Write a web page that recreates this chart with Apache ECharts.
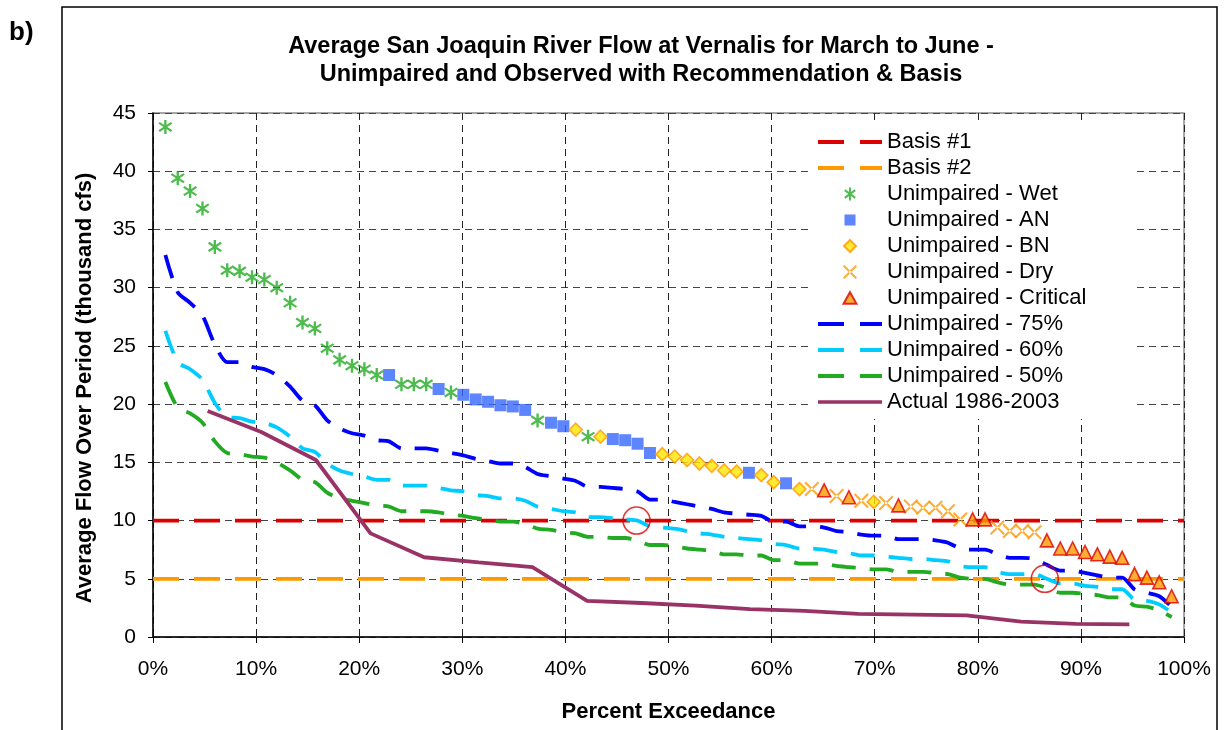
<!DOCTYPE html>
<html>
<head>
<meta charset="utf-8">
<script src="https://cdn.jsdelivr.net/npm/echarts@6/dist/echarts.min.js"></script>
<style>
html,body{margin:0;padding:0;background:#fff;}
#chart{width:1227px;height:730px;}
</style>
</head>
<body>
<div id="chart"></div>
<script>
// Percent exceedance position of each ranked year (82 years)
const exceed = [
 1.2, 2.4, 3.6, 4.8, 6.0, 7.2, 8.4, 9.6, 10.8, 12.0,
 13.3, 14.5, 15.7, 16.9, 18.1, 19.3, 20.5, 21.7, 22.9, 24.1,
 25.3, 26.5, 27.7, 28.9, 30.1, 31.3, 32.5, 33.7, 34.9, 36.1,
 37.3, 38.6, 39.8, 41.0, 42.2, 43.4, 44.6, 45.8, 47.0, 48.2,
 49.4, 50.6, 51.8, 53.0, 54.2, 55.4, 56.6, 57.8, 59.0, 60.2,
 61.4, 62.7, 63.9, 65.1, 66.3, 67.5, 68.7, 69.9, 71.1, 72.3,
 73.5, 74.7, 75.9, 77.1, 78.3, 79.5, 80.7, 81.9, 83.1, 84.3,
 85.5, 86.7, 88.0, 89.2, 90.4, 91.6, 92.8, 94.0, 95.2, 96.4,
 97.6, 98.8
];
// Unimpaired average flow (thousand cfs)
const unimpaired = [
 43.8, 39.4, 38.3, 36.8, 33.5, 31.5, 31.4, 30.9, 30.7, 30.0,
 28.7, 27.0, 26.5, 24.8, 23.8, 23.3, 23.0, 22.5, 22.5, 21.7,
 21.7, 21.7, 21.3, 21.0, 20.8, 20.4, 20.2, 19.9, 19.8, 19.5,
 18.6, 18.4, 18.1, 17.8, 17.2, 17.2, 17.0, 16.9, 16.6, 15.8,
 15.7, 15.5, 15.2, 14.9, 14.7, 14.3, 14.2, 14.1, 13.9, 13.3,
 13.2, 12.7, 12.7, 12.6, 12.1, 12.0, 11.7, 11.6, 11.5, 11.3,
 11.2, 11.1, 11.1, 10.8, 10.1, 10.1, 10.1, 9.4, 9.1, 9.1,
 9.0, 8.3, 7.6, 7.6, 7.3, 7.1, 6.9, 6.8, 5.4, 5.1,
 4.7, 3.5
];
// Water year type of each ranked year: W=Wet, A=AN, B=BN, D=Dry, C=Critical
const yearType = [
 'W','W','W','W','W','W','W','W','W','W',
 'W','W','W','W','W','W','W','W','A','W',
 'W','W','A','W','A','A','A','A','A','A',
 'W','A','A','B','W','B','A','A','A','A',
 'B','B','B','B','B','B','B','A','B','B',
 'A','B','D','C','D','C','D','B','D','C',
 'D','D','D','D','D','C','C','D','D','D',
 'D','C','C','C','C','C','C','C','C','C',
 'C','C'
];
const unimp75 = [
 32.8, 29.6, 28.7, 27.6, 25.1, 23.6, 23.6, 23.2, 23.0, 22.5,
 21.5, 20.3, 19.9, 18.6, 17.9, 17.5, 17.3, 16.9, 16.8, 16.2,
 16.2, 16.2, 16.0, 15.8, 15.6, 15.3, 15.1, 14.9, 14.9, 14.6,
 14.0, 13.8, 13.6, 13.4, 12.9, 12.9, 12.8, 12.7, 12.5, 11.8,
 11.8, 11.6, 11.4, 11.2, 11.0, 10.7, 10.6, 10.5, 10.4, 9.9,
 9.9, 9.5, 9.5, 9.4, 9.1, 9.0, 8.8, 8.7, 8.7, 8.4,
 8.4, 8.4, 8.3, 8.1, 7.6, 7.5, 7.5, 7.1, 6.8, 6.8,
 6.7, 6.2, 5.7, 5.7, 5.5, 5.3, 5.1, 5.1, 4.1, 3.8,
 3.5, 2.6
];
const unimp60 = [
 26.3, 23.6, 23.0, 22.1, 20.1, 18.9, 18.8, 18.5, 18.4, 18.0,
 17.2, 16.2, 15.9, 14.9, 14.3, 14.0, 13.8, 13.5, 13.5, 13.0,
 13.0, 13.0, 12.8, 12.6, 12.5, 12.2, 12.1, 11.9, 11.9, 11.7,
 11.2, 11.0, 10.8, 10.7, 10.3, 10.3, 10.2, 10.1, 10.0, 9.5,
 9.4, 9.3, 9.1, 8.9, 8.8, 8.6, 8.5, 8.4, 8.3, 8.0,
 7.9, 7.6, 7.6, 7.5, 7.3, 7.2, 7.0, 7.0, 6.9, 6.8,
 6.7, 6.7, 6.6, 6.5, 6.1, 6.0, 6.0, 5.6, 5.4, 5.4,
 5.4, 5.0, 4.6, 4.6, 4.4, 4.3, 4.1, 4.1, 3.2, 3.1,
 2.8, 2.1
];
const unimp50 = [
 21.9, 19.7, 19.2, 18.4, 16.8, 15.8, 15.7, 15.5, 15.4, 15.0,
 14.3, 13.5, 13.3, 12.4, 11.9, 11.7, 11.5, 11.3, 11.2, 10.8,
 10.8, 10.8, 10.7, 10.5, 10.4, 10.2, 10.1, 9.9, 9.9, 9.7,
 9.3, 9.2, 9.0, 8.9, 8.6, 8.6, 8.5, 8.5, 8.3, 7.9,
 7.9, 7.8, 7.6, 7.5, 7.4, 7.1, 7.1, 7.0, 7.0, 6.6,
 6.6, 6.3, 6.3, 6.3, 6.1, 6.0, 5.9, 5.8, 5.8, 5.6,
 5.6, 5.6, 5.5, 5.4, 5.1, 5.0, 5.0, 4.7, 4.5, 4.5,
 4.5, 4.2, 3.8, 3.8, 3.7, 3.6, 3.4, 3.4, 2.7, 2.6,
 2.3, 1.7
];
// Actual 1986-2003 (18 years)
const actualX = [5.3, 10.5, 15.8, 21.1, 26.3, 31.6, 36.8, 42.1, 47.4, 52.6, 57.9, 63.2, 68.4, 73.7, 78.9, 84.2, 89.5, 94.7];
const actualY = [19.4, 17.6, 15.2, 8.9, 6.85, 6.4, 6.0, 3.1, 2.92, 2.7, 2.4, 2.25, 1.98, 1.92, 1.86, 1.32, 1.12, 1.09];
// Basis levels
const basisX = [0, 100];
const basis1 = [10, 10];
const basis2 = [5, 5];
// Highlight circles
const circleX = [46.9, 86.5];
const circleY = [10.0, 5.0];

const titleText = 'Average San Joaquin River Flow at Vernalis for March to June -\nUnimpaired and Observed with Recommendation & Basis';
const xName = 'Percent Exceedance';
const yName = 'Average Flow Over Period (thousand cfs)';

const FONT = '"Liberation Sans", Arial, sans-serif';

function pick(code) {
  const out = [];
  for (let i = 0; i < exceed.length; i++) {
    if (yearType[i] === code) out.push([exceed[i], unimpaired[i]]);
  }
  return out;
}
function zip(xs, ys) { return xs.map((x, i) => [x, ys[i]]); }

// marker shapes as polygons in a 20x20 box
const SHAPE_ASTERISK = [
  [[8.5,0],[11.5,0],[11.5,20],[8.5,20]],
  [[1.1,5.2],[2.9,2.8],[18.9,14.8],[17.1,17.2]],
  [[2.9,17.2],[1.1,14.8],[17.1,2.8],[18.9,5.2]]
];
const SHAPE_CROSS = [
  [[0,2],[2,0],[20,18],[18,20]],
  [[0,18],[2,20],[20,2],[18,0]]
];
const SHAPE_SQUARE = [[[0,0],[20,0],[20,20],[0,20]]];
const SHAPE_DIAMOND = [[[10,0],[20,10],[10,20],[0,10]]];
const SHAPE_TRIANGLE = [[[10,1],[20,19],[0,19]]];
const SHAPE_DASH = [[[0,8],[26,8],[26,12],[0,12]], [[42,8],[64,8],[64,12],[42,12]]];
const SHAPE_SOLID = [[[0,8.2],[64,8.2],[64,11.8],[0,11.8]]];

function polyPath(shape, s, ox, oy) {
  return shape.map(poly => poly.map((p, k) => (k === 0 ? 'M' : 'L') + (p[0] * s + ox).toFixed(2) + ',' + (p[1] * s + oy).toFixed(2)).join(' ') + ' Z').join(' ');
}
function markerSymbol(shape) { return 'path://' + polyPath(shape, 1, 0, 0); }
// legend icon: marker of given pixel size centred in a 64x14 box
function legendMarker(shape, size) {
  const s = size / 20;
  return 'path://M0,0 M64,14 ' + polyPath(shape, s, 32 - size / 2, 7 - size / 2);
}
function legendLine(shape) {
  return 'path://M0,0 M64,14 ' + polyPath(shape, 1, 0, -3);
}

const chart = echarts.init(document.getElementById('chart'), null, {renderer: 'canvas'});

function dashLine(name, data, color, dash, smooth) {
  return {
    name: name, type: 'line', data: data, showSymbol: false, symbol: 'none',
    smooth: smooth, z: 3,
    lineStyle: {color: color, width: 3.8, type: dash, cap: 'butt'},
    itemStyle: {color: color, borderWidth: 0},
    emphasis: {disabled: true}
  };
}

const lineItem = {borderWidth: 0};

const option = {
  animation: false,
  backgroundColor: '#ffffff',
  grid: {left: 153, right: 43, top: 113, bottom: 93, show: true, borderColor: '#8a8a8a', borderWidth: 1.5, backgroundColor: 'transparent'},
  graphic: [
    {type: 'rect', shape: {x: 62, y: 7, width: 1155, height: 760}, style: {fill: 'none', stroke: '#000', lineWidth: 1.5}, z: -1, silent: true},
    {type: 'text', x: 9, y: 20, style: {text: 'b)', font: 'bold 26px ' + FONT, fill: '#000'}, silent: true},
    {type: 'text', x: 641, y: 33, style: {text: titleText, font: 'bold 23.5px ' + FONT, fill: '#000', textAlign: 'center', lineHeight: 28}, silent: true},
    {type: 'text', x: 85, y: 388, rotation: Math.PI / 2, style: {text: yName, font: 'bold 22px ' + FONT, fill: '#000', textAlign: 'center', textVerticalAlign: 'middle'}, silent: true}
  ],
  legend: {
    orient: 'vertical', left: 812, top: 125,
    itemWidth: 64, itemHeight: 14, itemGap: 4,
    padding: [6, 48, 6, 5],
    backgroundColor: '#ffffff',
    textStyle: {fontFamily: FONT, fontSize: 22, lineHeight: 22, color: '#000'},
    selectedMode: false,
    data: [
      {name: 'Basis #1', icon: legendLine(SHAPE_DASH), itemStyle: lineItem},
      {name: 'Basis #2', icon: legendLine(SHAPE_DASH), itemStyle: lineItem},
      {name: 'Unimpaired - Wet', icon: legendMarker(SHAPE_ASTERISK, 13)},
      {name: 'Unimpaired - AN', icon: legendMarker(SHAPE_SQUARE, 11)},
      {name: 'Unimpaired - BN', icon: legendMarker(SHAPE_DIAMOND, 12)},
      {name: 'Unimpaired - Dry', icon: legendMarker(SHAPE_CROSS, 14)},
      {name: 'Unimpaired - Critical', icon: legendMarker(SHAPE_TRIANGLE, 13)},
      {name: 'Unimpaired - 75%', icon: legendLine(SHAPE_DASH), itemStyle: lineItem},
      {name: 'Unimpaired - 60%', icon: legendLine(SHAPE_DASH), itemStyle: lineItem},
      {name: 'Unimpaired - 50%', icon: legendLine(SHAPE_DASH), itemStyle: lineItem},
      {name: 'Actual 1986-2003', icon: legendLine(SHAPE_SOLID), itemStyle: lineItem}
    ]
  },
  xAxis: {
    type: 'value', min: 0, max: 100, interval: 10,
    name: xName, nameLocation: 'middle', nameGap: 64,
    nameTextStyle: {fontFamily: FONT, fontSize: 22, fontWeight: 'bold', color: '#000'},
    axisLine: {lineStyle: {color: '#000', width: 1.5}},
    axisTick: {show: true, length: 6, inside: false, lineStyle: {color: '#000'}},
    axisLabel: {formatter: '{value}%', fontFamily: FONT, fontSize: 21, color: '#000', margin: 22},
    splitLine: {show: true, lineStyle: {color: '#222', width: 1, type: [7, 5]}}
  },
  yAxis: {
    type: 'value', min: 0, max: 45, interval: 5,
    axisLine: {show: true, lineStyle: {color: '#000', width: 1.5}},
    axisTick: {show: true, length: 5, inside: false, lineStyle: {color: '#000'}},
    axisLabel: {fontFamily: FONT, fontSize: 21, color: '#000', margin: 17},
    splitLine: {show: true, lineStyle: {color: '#444', width: 1, type: [7, 5]}}
  },
  series: [
    dashLine('Basis #1', zip(basisX, basis1), '#dd0000', [26, 15], false),
    dashLine('Basis #2', zip(basisX, basis2), '#ff9900', [26, 15], false),
    dashLine('Unimpaired - 75%', zip(exceed, unimp75), '#0000ff', [24, 14], 0.25),
    dashLine('Unimpaired - 60%', zip(exceed, unimp60), '#00ccff', [24, 14], 0.25),
    dashLine('Unimpaired - 50%', zip(exceed, unimp50), '#22aa22', [24, 14], 0.25),
    {
      name: 'Actual 1986-2003', type: 'line', data: zip(actualX, actualY), showSymbol: false, symbol: 'none', z: 4,
      lineStyle: {color: '#993366', width: 3.8}, itemStyle: {color: '#993366', borderWidth: 0}, emphasis: {disabled: true}
    },
    {
      name: 'Unimpaired - Wet', type: 'scatter', data: pick('W'), symbol: markerSymbol(SHAPE_ASTERISK), symbolSize: 14, z: 5,
      itemStyle: {color: '#22aa22'}, emphasis: {disabled: true}
    },
    {
      name: 'Unimpaired - AN', type: 'scatter', data: pick('A'), symbol: markerSymbol(SHAPE_SQUARE), symbolSize: 12, z: 5,
      itemStyle: {color: '#3366ff'}, emphasis: {disabled: true}
    },
    {
      name: 'Unimpaired - BN', type: 'scatter', data: pick('B'), symbol: markerSymbol(SHAPE_DIAMOND), symbolSize: 13, z: 5,
      itemStyle: {color: '#ffe600', borderColor: '#ff9900', borderWidth: 1.6}, emphasis: {disabled: true}
    },
    {
      name: 'Unimpaired - Dry', type: 'scatter', data: pick('D'), symbol: markerSymbol(SHAPE_CROSS), symbolSize: 15, z: 5,
      itemStyle: {color: '#ff9900'}, emphasis: {disabled: true}
    },
    {
      name: 'Unimpaired - Critical', type: 'scatter', data: pick('C'), symbol: markerSymbol(SHAPE_TRIANGLE), symbolSize: 13, z: 5,
      itemStyle: {color: '#ff9900', borderColor: '#dd0000', borderWidth: 1.6}, emphasis: {disabled: true}
    },
    {
      name: 'circles', type: 'scatter', data: zip(circleX, circleY), symbol: 'circle', symbolSize: 27, z: 6,
      itemStyle: {color: 'rgba(0,0,0,0)', borderColor: '#dd0000', borderWidth: 1.6}, emphasis: {disabled: true}
    }
  ]
};
chart.setOption(option);
</script>
</body>
</html>
